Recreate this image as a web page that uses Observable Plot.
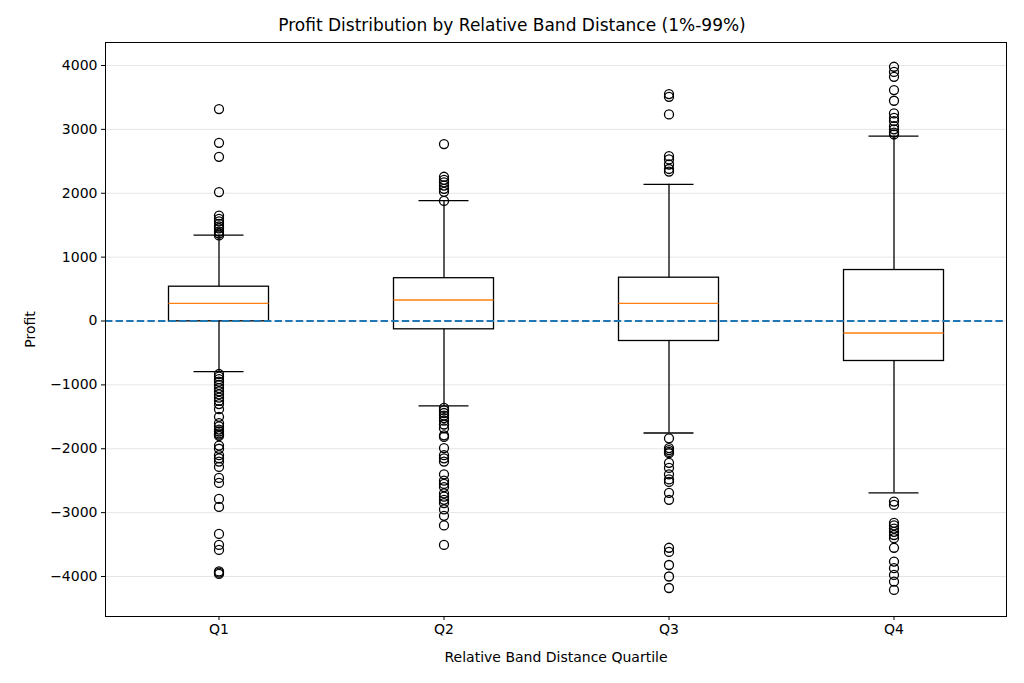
<!DOCTYPE html>
<html>
<head>
<meta charset="utf-8">
<script src="https://cdn.jsdelivr.net/npm/d3@7"></script>
<script src="https://cdn.jsdelivr.net/npm/@observablehq/plot@0.6"></script>
<style>
  html, body { margin: 0; padding: 0; background: #fff; }
  #title { height: 40px; box-sizing: border-box; padding-top: 15px; text-align: center;
    font-family: "DejaVu Sans", sans-serif; font-size: 17px; line-height: 20px; color: #000; }
  #chart svg { display: block; }
</style>
</head>
<body>
<div id="title">Profit Distribution by Relative Band Distance (1%-99%)</div>
<div id="chart"></div>
<script>
const categories = ["Q1", "Q2", "Q3", "Q4"];
const q1s = [-5, -130, -313, -626];
const medians = [277, 329, 277, -188];
const q3s = [537, 670, 678, 798];
const whiskerLow = [-793, -1330, -1753, -2690];
const whiskerHigh = [1346, 1883, 2139, 2895];
const yTicks = [-4000, -3000, -2000, -1000, 0, 1000, 2000, 3000, 4000];

const outliersQ1 = [3318, 2790, 2571, 2019, 1650, 1600, 1560, 1520, 1480, 1450, 1400, 1370, 1340,
  -830, -870, -910, -950, -1000, -1050, -1100, -1150, -1200, -1250, -1300, -1380, -1500, -1600,
  -1650, -1700, -1730, -1760, -1780, -1800, -1950, -2000, -2100, -2150, -2200, -2285,
  -2457, -2535, -2785, -2911, -3333, -3505, -3584, -3920, -3940, -3960];
const outliersQ2 = [2770, 2258, 2210, 2170, 2120, 2070, 2023, 1880,
  -1360, -1400, -1440, -1480, -1520, -1560, -1620, -1680, -1790, -1815,
  -1990, -2100, -2150, -2200, -2400, -2500, -2550, -2600, -2700, -2750, -2800, -2850,
  -2950, -3050, -3200, -3505];
const outliersQ3 = [3552, 3510, 3234, 2580, 2530, 2450, 2380, 2340,
  -1836, -1990, -2020, -2050, -2070, -2220, -2300, -2400, -2480, -2520, -2690, -2800,
  -3550, -3615, -3820, -4000, -4180];
const outliersQ4 = [3980, 3900, 3823, 3615, 3448, 3250, 3180, 3130, 3050, 3000, 2950, 2920,
  -2827, -2880, -3160, -3200, -3250, -3300, -3350, -3400, -3550, -3766, -3870, -3975, -4080, -4210];
const outliersByCat = [outliersQ1, outliersQ2, outliersQ3, outliersQ4];

const stats = categories.map((c, i) => ({
  cat: c, q1: q1s[i], med: medians[i], q3: q3s[i], lo: whiskerLow[i], hi: whiskerHigh[i]
}));
const outliers = categories.flatMap((c, i) => outliersByCat[i].map(v => ({cat: c, v})));

const width = 1024, height = 643;
const boxInset = 62.5, capInset = 87.5;

const chart = Plot.plot({
  width, height,
  marginTop: 2, marginBottom: 67, marginLeft: 105, marginRight: 18,
  style: {fontFamily: "DejaVu Sans, sans-serif", fontSize: "14px", color: "#000", background: "#fff"},
  x: {type: "band", domain: categories, padding: 0, label: "Relative Band Distance Quartile",
      labelAnchor: "center", labelArrow: "none", labelOffset: 45, tickSize: 4, tickPadding: 4},
  y: {domain: [-4626, 4360], ticks: yTicks, tickFormat: d3.format("d"), label: "Profit", labelAnchor: "center",
      labelArrow: "none", labelOffset: 80, tickSize: 4, tickPadding: 4},
  marks: [
    Plot.ruleY(yTicks, {stroke: "#000", strokeOpacity: 0.1, strokeWidth: 1}),
    Plot.ruleX(stats, {x: "cat", y1: "q3", y2: "hi", stroke: "#000", strokeWidth: 1.3}),
    Plot.ruleX(stats, {x: "cat", y1: "q1", y2: "lo", stroke: "#000", strokeWidth: 1.3}),
    Plot.tickY(stats, {x: "cat", y: "hi", stroke: "#000", strokeWidth: 1.3, insetLeft: capInset, insetRight: capInset}),
    Plot.tickY(stats, {x: "cat", y: "lo", stroke: "#000", strokeWidth: 1.3, insetLeft: capInset, insetRight: capInset}),
    Plot.barY(stats, {x: "cat", y1: "q1", y2: "q3", fill: "none", stroke: "#000", strokeWidth: 1.3, insetLeft: boxInset, insetRight: boxInset}),
    Plot.tickY(stats, {x: "cat", y: "med", stroke: "#ff7f0e", strokeWidth: 1.3, insetLeft: boxInset, insetRight: boxInset}),
    Plot.dot(outliers, {x: "cat", y: "v", r: 4.5, stroke: "#000", fill: "none", strokeWidth: 1.3}),
    Plot.ruleY([0], {stroke: "#1f77b4", strokeWidth: 2, strokeDasharray: "7.4,3.2"}),
    Plot.frame({stroke: "#000", strokeWidth: 1})
  ]
});
document.getElementById("chart").appendChild(chart);
</script>
</body>
</html>
